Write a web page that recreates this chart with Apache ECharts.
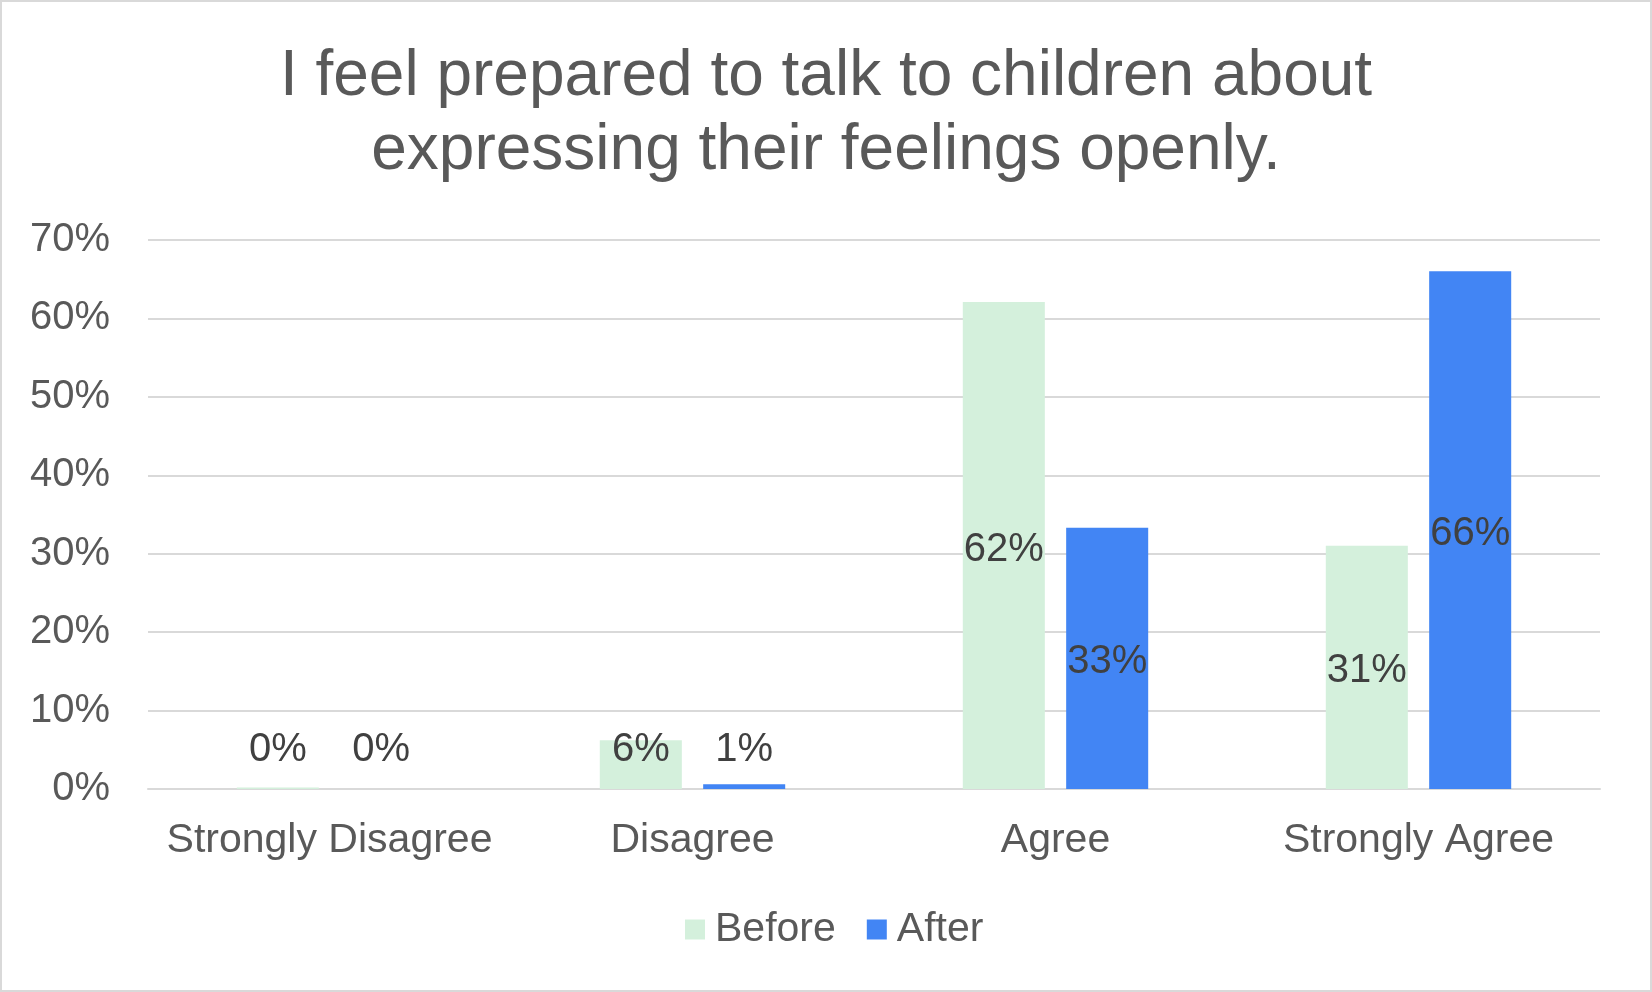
<!DOCTYPE html>
<html><head><meta charset="utf-8">
<script src="https://cdn.jsdelivr.net/npm/echarts@6/dist/echarts.min.js"></script>
<style>
html,body{margin:0;padding:0;background:#fff;}
#c{width:1652px;height:992px;box-sizing:border-box;border:2px solid #d9d9d9;}
</style></head>
<body><div id="c"></div>
<script>
const titleText = 'I feel prepared to talk to children about\nexpressing their feelings openly.';
const categories = ['Strongly Disagree', 'Disagree', 'Agree', 'Strongly Agree'];
const beforeValues = [0.2, 6.2, 62.1, 31.0];
const afterValues = [0, 0.6, 33.3, 66.0];
const seriesNames = ['Before', 'After'];
const yTicks = [0, 10, 20, 30, 40, 50, 60, 70];

const font = '"Liberation Sans", Arial, sans-serif';
function mkData(vals){
  return vals.map(v => ({
    value: v,
    label: v < 10 ? {position: 'insideBottom', distance: 19} : {position: 'inside', offset: [0, 4]}
  }));
}
const chart = echarts.init(document.getElementById('c'), null, {renderer: 'canvas'});
chart.setOption({
  animation: false,
  title: {
    text: titleText, left: 'center', top: 33,
    textStyle: {fontFamily: font, fontSize: 64, fontWeight: 'normal', color: '#595959', lineHeight: 74}
  },
  legend: {
    data: seriesNames, top: 902, left: 678,
    itemWidth: 20, itemHeight: 20, itemGap: 31, icon: 'rect',
    textStyle: {fontFamily: font, fontSize: 41, color: '#595959', padding: [0, 0, 0, 5]}
  },
  grid: {left: 146, right: 50, top: 238, bottom: 201, containLabel: false},
  xAxis: {
    type: 'category', data: categories,
    axisLine: {lineStyle: {color: '#d9d9d9', width: 2}},
    axisTick: {show: false},
    axisLabel: {fontFamily: font, fontSize: 41, color: '#595959', margin: 31, interval: 0}
  },
  yAxis: {
    type: 'value', min: yTicks[0], max: yTicks[yTicks.length - 1], interval: 10,
    axisLine: {show: false}, axisTick: {show: false},
    splitLine: {lineStyle: {color: '#d9d9d9', width: 2}},
    axisLabel: {fontFamily: font, fontSize: 40, color: '#595959', margin: 38,
      formatter: v => v + '%'}
  },
  series: [
    {name: seriesNames[0], type: 'bar', data: mkData(beforeValues), barWidth: '22.6%', barGap: '26%',
      itemStyle: {color: '#d4f0dc'},
      label: {show: true, fontFamily: font, fontSize: 40, color: '#404040', formatter: p => Math.round(p.value) + '%'}},
    {name: seriesNames[1], type: 'bar', data: mkData(afterValues), barWidth: '22.6%', barGap: '26%',
      itemStyle: {color: '#4285f4'},
      label: {show: true, fontFamily: font, fontSize: 40, color: '#404040', formatter: p => Math.round(p.value) + '%'}}
  ]
});
</script></body></html>
